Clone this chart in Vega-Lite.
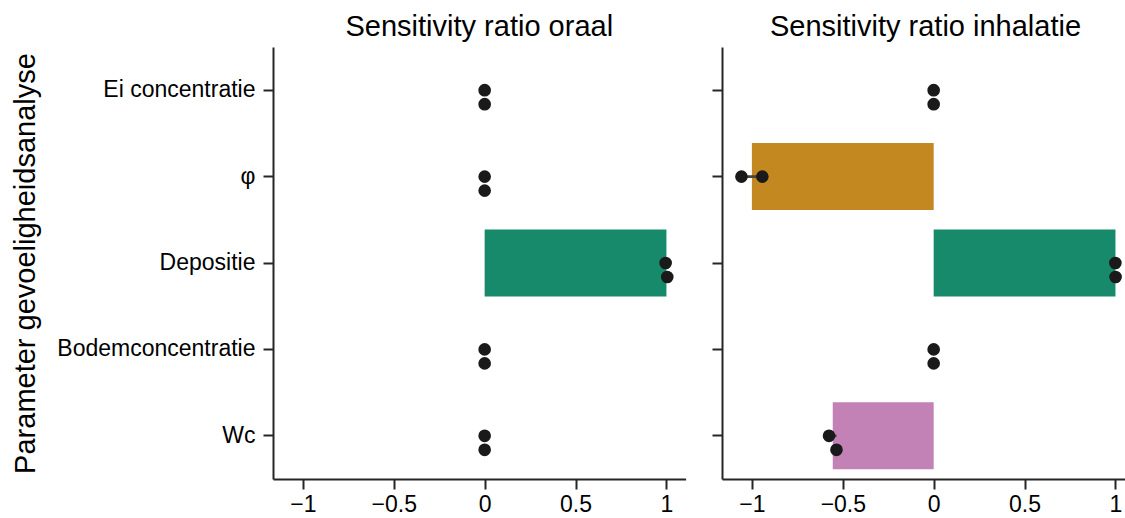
{
  "$schema": "https://vega.github.io/schema/vega-lite/v6.json",
  "padding": {"left": 11, "top": 13, "right": 0, "bottom": 4},
  "background": "white",
  "data": {"values": [
    {"param": "Ei concentratie", "route": "oraal", "value": 0, "slot": 0},
    {"param": "Ei concentratie", "route": "oraal", "value": 0, "slot": 1},
    {"param": "φ", "route": "oraal", "value": 0, "slot": 0},
    {"param": "φ", "route": "oraal", "value": 0, "slot": 1},
    {"param": "Depositie", "route": "oraal", "value": 0.996, "slot": 0},
    {"param": "Depositie", "route": "oraal", "value": 1.005, "slot": 1},
    {"param": "Bodemconcentratie", "route": "oraal", "value": 0, "slot": 0},
    {"param": "Bodemconcentratie", "route": "oraal", "value": 0, "slot": 1},
    {"param": "Wc", "route": "oraal", "value": 0, "slot": 0},
    {"param": "Wc", "route": "oraal", "value": 0, "slot": 1},
    {"param": "Ei concentratie", "route": "inhalatie", "value": 0, "slot": 0},
    {"param": "Ei concentratie", "route": "inhalatie", "value": 0, "slot": 1},
    {"param": "φ", "route": "inhalatie", "value": -1.058, "slot": 0},
    {"param": "φ", "route": "inhalatie", "value": -0.943, "slot": 0},
    {"param": "Depositie", "route": "inhalatie", "value": 1.0, "slot": 0},
    {"param": "Depositie", "route": "inhalatie", "value": 1.001, "slot": 1},
    {"param": "Bodemconcentratie", "route": "inhalatie", "value": 0, "slot": 0},
    {"param": "Bodemconcentratie", "route": "inhalatie", "value": 0, "slot": 1},
    {"param": "Wc", "route": "inhalatie", "value": -0.576, "slot": 0},
    {"param": "Wc", "route": "inhalatie", "value": -0.535, "slot": 1}
  ]},
  "config": {
    "view": {"stroke": null},
    "axis": {
      "domainColor": "#262626", "domainWidth": 2, "tickColor": "#262626", "tickWidth": 2, "tickSize": 10,
      "labelFont": "Liberation Sans", "labelFontSize": 23, "labelColor": "#000000", "grid": false, "labelLimit": 400,
      "titleFont": "Liberation Sans", "titleFontSize": 29, "titleFontWeight": "normal", "titleColor": "#000000"
    },
    "axisX": {"labelPadding": 4},
    "axisY": {"labelPadding": 8},
    "title": {"font": "Liberation Sans", "fontSize": 29, "fontWeight": "normal", "color": "#000000", "offset": 5}
  },
  "spacing": 25,
  "hconcat": [
    {
      "width": 412.6,
      "height": 432,
      "title": "Sensitivity ratio oraal",
      "transform": [{"filter": "datum.route === 'oraal'"}],
      "encoding": {
        "y": {"field": "param", "type": "nominal",
              "sort": ["Ei concentratie", "φ", "Depositie", "Bodemconcentratie", "Wc"],
              "scale": {"paddingInner": 0, "paddingOuter": 0},
              "axis": {"title": "Parameter gevoeligheidsanalyse", "titleX": -239, "titleY": 216, "titleBaseline": "alphabetic", "titleAngle": -90}}
      },
      "layer": [
        {
          "mark": {"type": "bar", "height": {"band": 0.775}},
          "encoding": {
            "x": {"aggregate": "mean", "field": "value", "type": "quantitative",
                  "scale": {"domain": [-1.165, 1.106], "nice": false, "zero": false},
                  "axis": {"title": null, "values": [-1, -0.5, 0, 0.5, 1], "format": ".1~f"}},
            "color": {"field": "param", "type": "nominal", "legend": null,
                      "scale": {"domain": ["Ei concentratie", "φ", "Depositie", "Bodemconcentratie", "Wc"],
                                "range": ["#176D9C", "#C3881F", "#168A6A", "#BA611B", "#C282B6"]}}
          }
        },
        {
          "mark": {"type": "rule", "color": "#424242", "strokeWidth": 2.7},
          "encoding": {
            "x": {"aggregate": "min", "field": "value", "type": "quantitative"},
            "x2": {"aggregate": "max", "field": "value"}
          }
        },
        {
          "mark": {"type": "point", "filled": true, "opacity": 1, "color": "#1a1a1a", "size": 160, "yOffset": {"expr": "datum.slot * 14"}},
          "encoding": {
            "x": {"field": "value", "type": "quantitative"}
          }
        }
      ]
    },
    {
      "width": 407,
      "height": 432,
      "title": "Sensitivity ratio inhalatie",
      "transform": [{"filter": "datum.route === 'inhalatie'"}],
      "encoding": {
        "y": {"field": "param", "type": "nominal",
              "sort": ["Ei concentratie", "φ", "Depositie", "Bodemconcentratie", "Wc"],
              "scale": {"paddingInner": 0, "paddingOuter": 0},
              "axis": {"title": null, "labels": false}}
      },
      "layer": [
        {
          "mark": {"type": "bar", "height": {"band": 0.775}},
          "encoding": {
            "x": {"aggregate": "mean", "field": "value", "type": "quantitative",
                  "scale": {"domain": [-1.165, 1.075], "nice": false, "zero": false},
                  "axis": {"title": null, "values": [-1, -0.5, 0, 0.5, 1], "format": ".1~f"}},
            "color": {"field": "param", "type": "nominal", "legend": null,
                      "scale": {"domain": ["Ei concentratie", "φ", "Depositie", "Bodemconcentratie", "Wc"],
                                "range": ["#176D9C", "#C3881F", "#168A6A", "#BA611B", "#C282B6"]}}
          }
        },
        {
          "mark": {"type": "rule", "color": "#424242", "strokeWidth": 2.7},
          "encoding": {
            "x": {"aggregate": "min", "field": "value", "type": "quantitative"},
            "x2": {"aggregate": "max", "field": "value"}
          }
        },
        {
          "mark": {"type": "point", "filled": true, "opacity": 1, "color": "#1a1a1a", "size": 160, "yOffset": {"expr": "datum.slot * 14"}},
          "encoding": {
            "x": {"field": "value", "type": "quantitative"}
          }
        }
      ]
    }
  ]
}
